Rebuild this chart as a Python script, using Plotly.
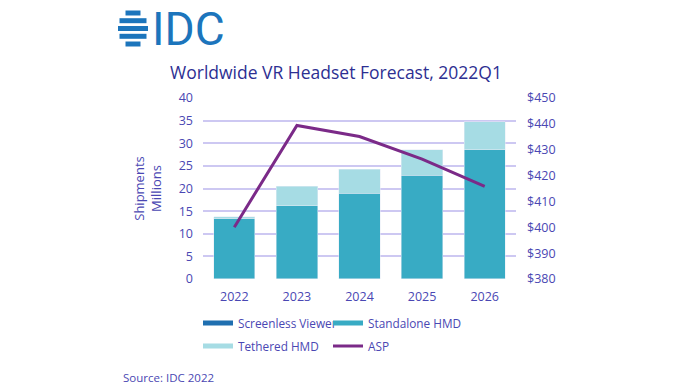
import plotly.graph_objects as go

years = ["2022", "2023", "2024", "2025", "2026"]
screenless = [0.1, 0.05, 0.03, 0.02, 0.01]
standalone = [13.2, 16.1, 18.9, 22.9, 28.5]
tethered = [0.5, 4.3, 5.3, 5.6, 6.2]
asp = [400, 439.4, 435.1, 426.4, 415.8]
left_ticks = [0, 5, 10, 15, 20, 25, 30, 35, 40]
right_ticks = [380, 390, 400, 410, 420, 430, 440, 450]
right_labels = ["$" + str(v) for v in right_ticks]

W, H = 676, 391
L, R, T, B = 203, 160, 98, 112
PW, PH = W - L - R, H - T - B

def px(x):
    return (x - L) / PW

def py(y):
    return (H - B - y) / PH

C_SCREEN = "#1f6fb0"
C_STAND = "#38abc4"
C_TETH = "#a6dce4"
C_ASP = "#7b2a88"
C_TEXT = "#4a47b3"
C_TITLE = "#2d2f92"
C_GRID = "#cdc8f2"
FONT = "Open Sans"

fig = go.Figure()
fig.add_trace(go.Bar(x=years, y=screenless, name="Screenless Viewer", marker_color=C_SCREEN,
                     showlegend=False, legendgroup="s"))
fig.add_trace(go.Bar(x=years, y=standalone, name="Standalone HMD", marker_color=C_STAND,
                     showlegend=False, legendgroup="a"))
fig.add_trace(go.Bar(x=years, y=tethered, name="Tethered HMD", marker_color=C_TETH,
                     showlegend=False, legendgroup="t"))
fig.add_trace(go.Scatter(x=years, y=asp, name="ASP", mode="lines", yaxis="y2",
                         line=dict(color=C_ASP, width=3), showlegend=False, legendgroup="p"))

# legend entries (thin wide swatches like the original)
for name, col, grp, lg, w, lw in [("Screenless Viewer", C_SCREEN, "s", "legend", 5, None),
                                  ("Standalone HMD", C_STAND, "a", "legend", 5, 110),
                                  ("Tethered HMD", C_TETH, "t", "legend2", 5, None),
                                  ("ASP", C_ASP, "p", "legend2", 3, 110)]:
    fig.add_trace(go.Scatter(x=[None], y=[None], mode="lines", name=name,
                             line=dict(color=col, width=w), legendgroup=grp, legend=lg,
                             legendwidth=lw))

shapes = []
# IDC globe: horizontal stripes forming a sphere
cx, cy = 133, 28.5
for dy, hw in [(-15.5, 7.5), (-7.8, 13.5), (0, 15), (7.8, 13.5), (15.5, 7.5)]:
    shapes.append(dict(type="line", xref="paper", yref="paper",
                       x0=px(cx - hw), x1=px(cx + hw), y0=py(cy + dy), y1=py(cy + dy),
                       line=dict(color="#1c75bc", width=5)))

leg_common = dict(orientation="h", xanchor="left", yanchor="middle", entrywidth=85,
                  font=dict(size=11.8, color=C_TEXT), bgcolor="rgba(0,0,0,0)",
                  itemclick=False, itemdoubleclick=False)

fig.update_layout(
    width=W, height=H,
    margin=dict(l=L, r=R, t=T, b=B),
    paper_bgcolor="white", plot_bgcolor="white",
    barmode="stack", bargap=0.34,
    font=dict(family=FONT, color=C_TEXT, size=12.5),
    title=dict(text="Worldwide VR Headset Forecast, 2022Q1", x=336 / W, xanchor="center",
               y=1 - 73 / H, yanchor="middle", font=dict(size=17.5, color=C_TITLE, family=FONT)),
    xaxis=dict(type="category", showgrid=False, ticks="", tickfont=dict(size=12.5, color=C_TEXT),
               showline=False, zeroline=False, ticklabelstandoff=8),
    yaxis=dict(range=[0, 40], tickvals=left_ticks, showgrid=True, gridcolor=C_GRID, gridwidth=1.5,
               zeroline=False, showline=False, ticks="", ticklabelstandoff=9,
               title=dict(text="Shipments<br>Millions", font=dict(size=13, color=C_TEXT), standoff=14),
               tickfont=dict(size=12.5, color=C_TEXT)),
    yaxis2=dict(range=[380, 450], tickvals=right_ticks, ticktext=right_labels, overlaying="y",
                side="right", showgrid=False, zeroline=False, showline=False, ticks="",
                ticklabelstandoff=10, tickfont=dict(size=12.5, color=C_TEXT)),
    legend=dict(x=px(198), y=py(323), **leg_common),
    legend2=dict(x=px(198), y=py(346), **leg_common),
    shapes=shapes,
    annotations=[
        dict(text="IDC", xref="paper", yref="paper", x=px(150), y=py(28.5), xanchor="left",
             yanchor="middle", showarrow=False,
             font=dict(family="Roboto", size=46, color="#1c75bc")),
        dict(text="Source: IDC 2022", xref="paper", yref="paper", x=px(121), y=py(377),
             xanchor="left", yanchor="middle", showarrow=False,
             font=dict(size=11.5, color=C_TEXT)),
    ],
)

fig.write_html("out.html", config={"displayModeBar": False},
               post_script="document.body.style.margin='0';")
